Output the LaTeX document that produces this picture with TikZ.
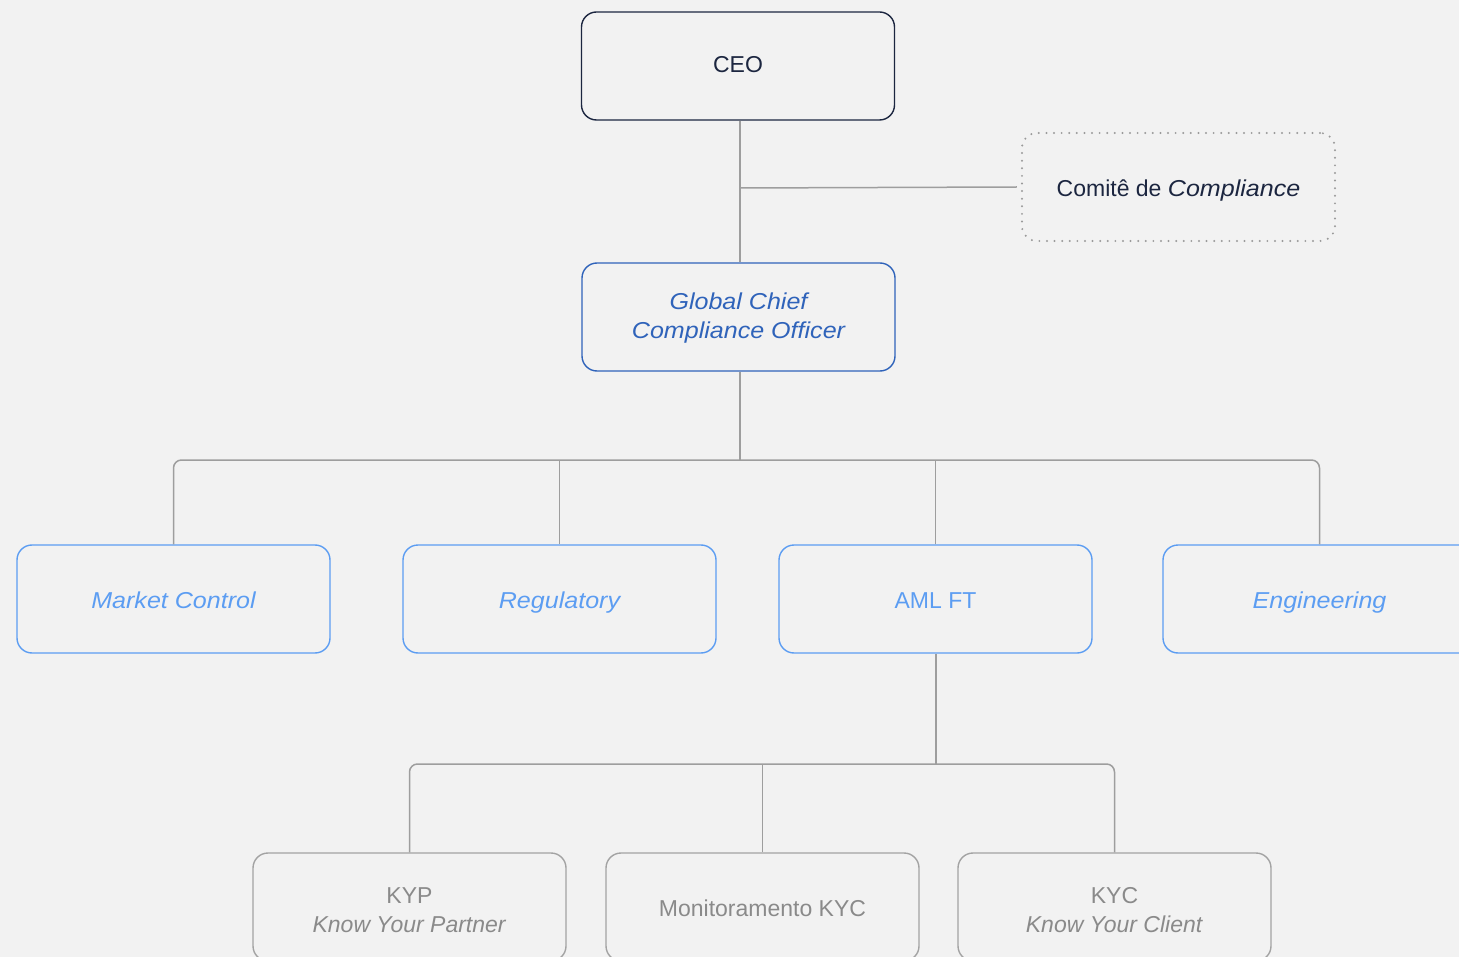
\documentclass[tikz,border=0pt]{standalone}
\usepackage{fontspec}
\setmainfont{Liberation Sans}
\newfontface\wideit{Liberation Sans Italic}[FakeStretch=1.09]
\newcommand{\wit}[1]{{\wideit #1}}
\newcommand{\topstrut}[1]{\rule{0pt}{#1}}
\newcommand{\botstrut}{\rule[-6pt]{0pt}{6pt}}
\begin{document}
\begin{tikzpicture}[x=1pt,y=-1pt,
  box/.style={rectangle, rounded corners=15pt, minimum width=313pt, minimum height=108pt,
    inner sep=0pt, line width=1.4pt, align=center,
    font=\fontsize{23}{29}\selectfont},
  oneline/.style={text height=#1, text depth=0pt},
  topbox/.style={box, draw=navy, text=navy},
  gccobox/.style={box, draw=midblue, text=midblue},
  lvltwo/.style={box, draw=lightblue, text=lightblue, oneline=19pt},
  lvlthree/.style={box, draw=boxgray, text=textgray},
  dotbox/.style={box, draw=dotgray, text=navy, line width=2.2pt, line cap=round,
    dash pattern=on 0pt off 7.6pt},
  conn/.style={draw=conngray, line width=1.5pt, rounded corners=8pt}
]
\definecolor{bg}{HTML}{F2F2F2}
\definecolor{navy}{HTML}{1C2640}
\definecolor{midblue}{HTML}{2F63BA}
\definecolor{lightblue}{HTML}{5C9DF2}
\definecolor{boxgray}{HTML}{A3A3A3}
\definecolor{textgray}{HTML}{8A8A8A}
\definecolor{dotgray}{HTML}{9A9A9A}
\definecolor{conngray}{HTML}{9E9E9E}

\useasboundingbox (0,0) rectangle (1459,957);
\fill[bg] (0,0) rectangle (1459,957);
\clip (0,0) rectangle (1459,957);

% nodes
\node[topbox, oneline=13.5pt] (ceo) at (738,66) {CEO};
\node[dotbox, oneline=20pt] (comite) at (1178.5,187) {Comitê de \wit{Compliance}};
\node[gccobox] (gcco) at (738.5,317) {\topstrut{21pt}\wit{Global Chief}\\\wit{Compliance Officer}\botstrut};

\node[lvltwo] (mc) at (173.5,599) {\wit{Market Control}};
\node[lvltwo] (reg) at (559.5,599) {\wit{Regulatory}};
\node[lvltwo] (aml) at (935.5,599) {AML FT};
\node[lvltwo] (eng) at (1319.5,599) {\wit{Engineering}};

\node[lvlthree] (kyp) at (409.5,907) {\topstrut{27pt}KYP\\\textit{Know Your Partner}\botstrut};
\node[lvlthree, oneline=18pt] (mon) at (762.5,907) {Monitoramento KYC};
\node[lvlthree] (kyc) at (1114.5,907) {\topstrut{27pt}KYC\\\textit{Know Your Client}\botstrut};

% coordinates
\coordinate (cj) at (740,188);
\coordinate (bus1) at (740,460);
\coordinate (bus2) at (936,764);

% connectors
\draw[conn] (ceo.south -| cj) -- (gcco.north -| cj);
\draw[conn] (cj) -- ([xshift=-4pt]comite.west);
\draw[conn] (gcco.south -| bus1) -- (bus1);
\draw[conn] (mc.north) |- (bus1);
\draw[conn] (eng.north) |- (bus1);
\draw[conn] (reg.north) -- (reg.north |- bus1);
\draw[conn] (aml.north) -- (aml.north |- bus1);

\draw[conn] (aml.south -| bus2) -- (bus2);
\draw[conn] (kyp.north) |- (bus2);
\draw[conn] (kyc.north) |- (bus2);
\draw[conn] (mon.north) -- (mon.north |- bus2);
\end{tikzpicture}
\end{document}
